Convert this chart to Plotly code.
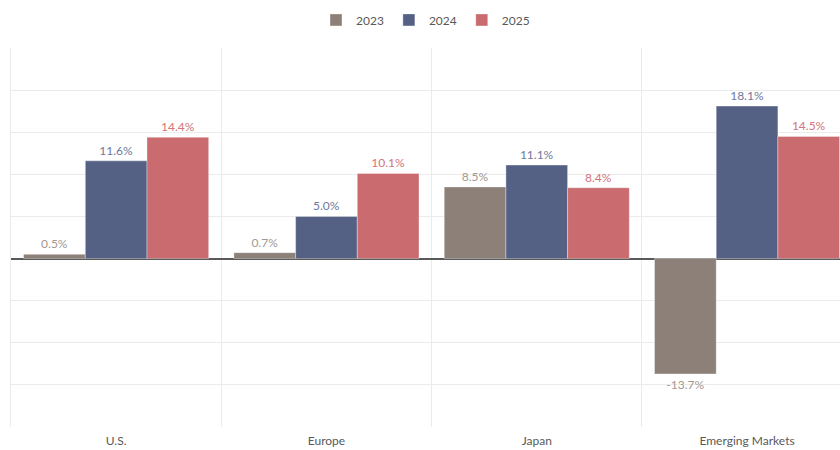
import plotly.graph_objects as go

categories = ["U.S.", "Europe", "Japan", "Emerging Markets"]
series_names = ["2023", "2024", "2025"]
values_2023 = [0.5, 0.7, 8.5, -13.7]
values_2024 = [11.6, 5.0, 11.1, 18.1]
values_2025 = [14.4, 10.1, 8.4, 14.5]

colors = ["#8C8079", "#556085", "#C96B6F"]
label_colors = ["#A39891", "#6E789C", "#D27479"]

FONT = "Lato"

fig = go.Figure()
for name, vals, c, lc in zip(series_names, [values_2023, values_2024, values_2025], colors, label_colors):
    fig.add_trace(go.Bar(
        x=categories, y=vals, name=name,
        marker=dict(color=c, line=dict(color="rgba(255,255,255,0.35)", width=1)),
        text=[f"{v:.1f}%" for v in vals], textposition="outside",
        textfont=dict(color=lc, size=12, family=FONT),
        cliponaxis=False,
    ))

fig.update_layout(
    width=840, height=450,
    margin=dict(l=11, r=0, t=48, b=23),
    paper_bgcolor="white", plot_bgcolor="white",
    barmode="group", bargap=0.12, bargroupgap=0,
    font=dict(family=FONT, color="#595959", size=12),
    legend=dict(orientation="h", x=0.5, xanchor="center", y=0.988, yanchor="top",
                yref="container", font=dict(size=12, color="#595959", family=FONT),
                itemwidth=30, traceorder="normal"),
    showlegend=True,
)

fig.update_xaxes(
    type="category", range=[-0.5, -0.5 + 829 / 210.3],
    tickson="boundaries", showgrid=True, gridcolor="#EBEBEB", gridwidth=1,
    ticks="", showline=False, ticklabelstandoff=5, automargin=False,
    tickfont=dict(size=12, color="#595959", family=FONT),
)
fig.update_yaxes(
    range=[-20, 25], dtick=5, showticklabels=False, automargin=False,
    showgrid=True, gridcolor="#EBEBEB", gridwidth=1,
    zeroline=True, zerolinecolor="#595959", zerolinewidth=1.5,
    showline=True, linecolor="#EBEBEB", linewidth=1,
)

fig.write_html(
    "out.html",
    config={"displayModeBar": False},
    post_script=(
        "document.documentElement.style.overflow='hidden';"
        "document.body.style.margin='0';"
        "document.body.style.overflow='hidden';"
    ),
)
